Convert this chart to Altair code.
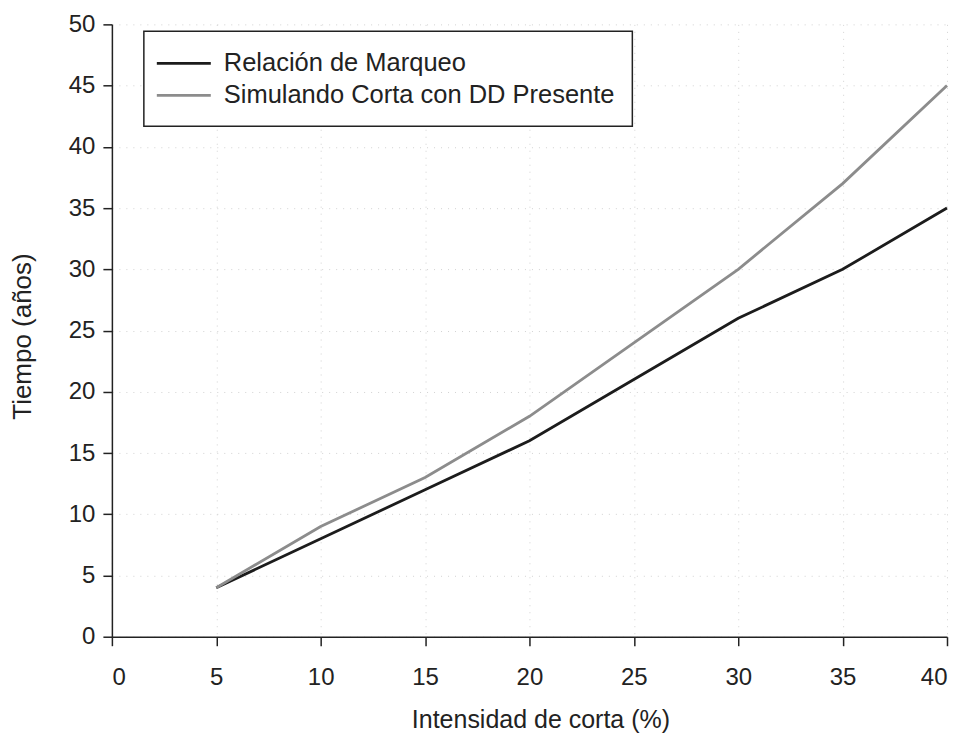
import altair as alt
import pandas as pd

intensidad = [5, 10, 15, 20, 25, 30, 35, 40]
relacion_marqueo = [4, 8, 12, 16, 21, 26, 30, 35]
simulando_corta = [4, 9, 13, 18, 24, 30, 37, 45]
series_names = ["Relación de Marqueo", "Simulando Corta con DD Presente"]

rows = []
for x, a, b in zip(intensidad, relacion_marqueo, simulando_corta):
    rows.append({"x": x, "y": a, "serie": series_names[0]})
    rows.append({"x": x, "y": b, "serie": series_names[1]})
df = pd.DataFrame(rows)

font = "Liberation Sans"

chart = alt.Chart(df).mark_line(strokeWidth=2.8).encode(
    x=alt.X("x:Q", scale=alt.Scale(domain=[0, 40], nice=False),
            axis=alt.Axis(title="Intensidad de corta (%)", values=list(range(0, 41, 5)),
                          titleX=429, titleY=83, titleBaseline="middle",
                          titleAlign="center", titleFontSize=25, labelPadding=20,
                          tickSize=9)),
    y=alt.Y("y:Q", scale=alt.Scale(domain=[0, 50], nice=False),
            axis=alt.Axis(title="Tiempo (años)", values=list(range(0, 51, 5)),
                          titleX=-89, titleY=312, titleAngle=-90,
                          titleBaseline="middle", titleAlign="center",
                          titleFontSize=26, labelPadding=8, tickSize=9)),
    color=alt.Color("serie:N", sort=series_names,
                    scale=alt.Scale(domain=series_names, range=["#1c1c1c", "#8c8c8c"]),
                    legend=alt.Legend(title=None, orient="none", legendX=32, legendY=7,
                                      symbolType="M-2,0H2", symbolSize=730,
                                      symbolStrokeWidth=2.8, symbolOffset=8,
                                      labelFontSize=25.5, labelFont=font,
                                      labelColor="#222", fillColor="white",
                                      strokeColor="#222", padding=17,
                                      rowPadding=3, labelOffset=25, labelLimit=600)),
    order=alt.Order("x:Q"),
).properties(
    width=836, height=613,
    autosize=alt.AutoSizeParams(type="none"),
    padding={"left": 104, "top": 16, "right": 2, "bottom": 98},
).configure_view(stroke=None).configure_axis(
    domainColor="#222", domainWidth=1.5, tickColor="#222", tickWidth=1.5,
    labelFont=font, labelFontSize=24, labelColor="#222",
    titleFont=font, titleColor="#222", titleFontWeight="normal",
    grid=True, gridColor="#d2d2d2", gridDash=[1, 6], gridWidth=1,
).configure_legend(strokeWidth=1.5)

chart.save("out.html", embed_options={"renderer": "svg", "actions": False})
